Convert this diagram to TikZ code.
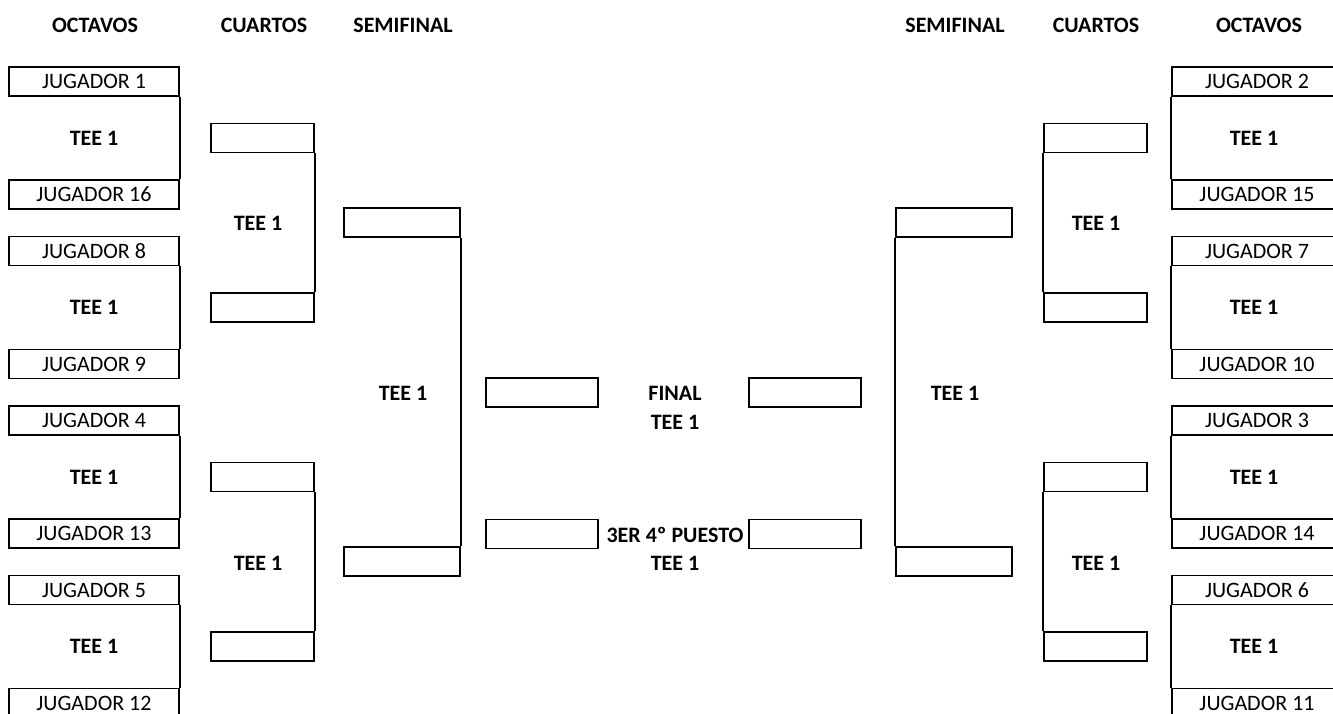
\documentclass[tikz,border=0pt]{standalone}
\usepackage{fontspec}
\setmainfont{Carlito}
\usetikzlibrary{positioning}

\begin{document}
\begin{tikzpicture}[
    x=1pt, y=-1pt,
    player/.style={rectangle, draw, line width=1.8pt, minimum width=170pt, minimum height=29pt, inner sep=0pt, font=\fontsize{22}{26}\selectfont},
    slot/.style={rectangle, draw, line width=1.8pt, minimum height=29pt, inner sep=0pt},
    tee/.style={font=\fontsize{22}{26}\selectfont\bfseries},
    link/.style={line width=1.8pt}
]
\useasboundingbox (0,0) rectangle (1333,713);
\clip (0,0) rectangle (1333,713);

% Headers
\node[tee] (h_oct_l) at (95,25) {OCTAVOS};
\node[tee] (h_cua_l) at (264,25) {CUARTOS};
\node[tee] (h_sem_l) at (403,25) {SEMIFINAL};
\node[tee] (h_sem_r) at (955,25) {SEMIFINAL};
\node[tee] (h_cua_r) at (1096,25) {CUARTOS};
\node[tee] (h_oct_r) at (1259,25) {OCTAVOS};

% Octavos left
\node[player] (j1) at (94,81.5) {JUGADOR 1};
\node[player] (j16) at (94,194.5) {JUGADOR 16};
\node[player] (j8) at (94,251) {JUGADOR 8};
\node[player] (j9) at (94,364) {JUGADOR 9};
\node[player] (j4) at (94,420.5) {JUGADOR 4};
\node[player] (j13) at (94,533.5) {JUGADOR 13};
\node[player] (j5) at (94,590) {JUGADOR 5};
\node[player] (j12) at (94,703) {JUGADOR 12};

\node[tee] (t_o1) at (94,138) {TEE 1};
\node[tee] (t_o2) at (94,307.5) {TEE 1};
\node[tee] (t_o3) at (94,477) {TEE 1};
\node[tee] (t_o4) at (94,646.5) {TEE 1};

% Octavos right
\node[player] (j2) at (1257,81.5) {JUGADOR 2};
\node[player] (j15) at (1257,194.5) {JUGADOR 15};
\node[player] (j7) at (1257,251) {JUGADOR 7};
\node[player] (j10) at (1257,364) {JUGADOR 10};
\node[player] (j3) at (1257,420.5) {JUGADOR 3};
\node[player] (j14) at (1257,533.5) {JUGADOR 14};
\node[player] (j6) at (1257,590) {JUGADOR 6};
\node[player] (j11) at (1257,703) {JUGADOR 11};

\node[tee] (t_o5) at (1254,138) {TEE 1};
\node[tee] (t_o6) at (1254,307.5) {TEE 1};
\node[tee] (t_o7) at (1254,477) {TEE 1};
\node[tee] (t_o8) at (1254,646.5) {TEE 1};

% Cuartos
\node[slot, minimum width=103pt] (ql1) at (262.5,138) {};
\node[slot, minimum width=103pt] (ql2) at (262.5,307.5) {};
\node[slot, minimum width=103pt] (ql3) at (262.5,477) {};
\node[slot, minimum width=103pt] (ql4) at (262.5,646.5) {};
\node[slot, minimum width=103pt] (qr1) at (1095.5,138) {};
\node[slot, minimum width=103pt] (qr2) at (1095.5,307.5) {};
\node[slot, minimum width=103pt] (qr3) at (1095.5,477) {};
\node[slot, minimum width=103pt] (qr4) at (1095.5,646.5) {};

\node[tee] (t_q1) at (258,223) {TEE 1};
\node[tee] (t_q2) at (258,563) {TEE 1};
\node[tee] (t_q3) at (1096,223) {TEE 1};
\node[tee] (t_q4) at (1096,563) {TEE 1};

% Semifinal
\node[slot, minimum width=116pt] (sl1) at (402,222.75) {};
\node[slot, minimum width=116pt] (sl2) at (402,561.75) {};
\node[slot, minimum width=116pt] (sr1) at (954,222.75) {};
\node[slot, minimum width=116pt] (sr2) at (954,561.75) {};

\node[tee] (t_s1) at (403,393) {TEE 1};
\node[tee] (t_s2) at (955,393) {TEE 1};

% Final and 3rd place
\node[slot, minimum width=112pt] (fl) at (542,392.5) {};
\node[slot, minimum width=112pt] (fr) at (805,392.5) {};
\node[slot, minimum width=112pt] (tl) at (542,534) {};
\node[slot, minimum width=112pt] (tr) at (805,534) {};

\node[tee] (final) at (675,393) {FINAL};
\node[tee] (t_f) at (675,422) {TEE 1};
\node[tee] (third) at (675,535) {3ER 4º PUESTO};
\node[tee] (t_t) at (675,563) {TEE 1};

% Edges
\draw[link] (j1.south east) -- (j16.north east);
\draw[link] (j8.south east) -- (j9.north east);
\draw[link] (j4.south east) -- (j13.north east);
\draw[link] (j5.south east) -- (j12.north east);
\draw[link] (j2.south west) -- (j15.north west);
\draw[link] (j7.south west) -- (j10.north west);
\draw[link] (j3.south west) -- (j14.north west);
\draw[link] (j6.south west) -- (j11.north west);

\draw[link] (ql1.south east) -- (ql2.north east);
\draw[link] (ql3.south east) -- (ql4.north east);
\draw[link] (qr1.south west) -- (qr2.north west);
\draw[link] (qr3.south west) -- (qr4.north west);

\draw[link] (sl1.south east) -- (sl2.north east);
\draw[link] (sr1.south west) -- (sr2.north west);

\end{tikzpicture}
\end{document}
